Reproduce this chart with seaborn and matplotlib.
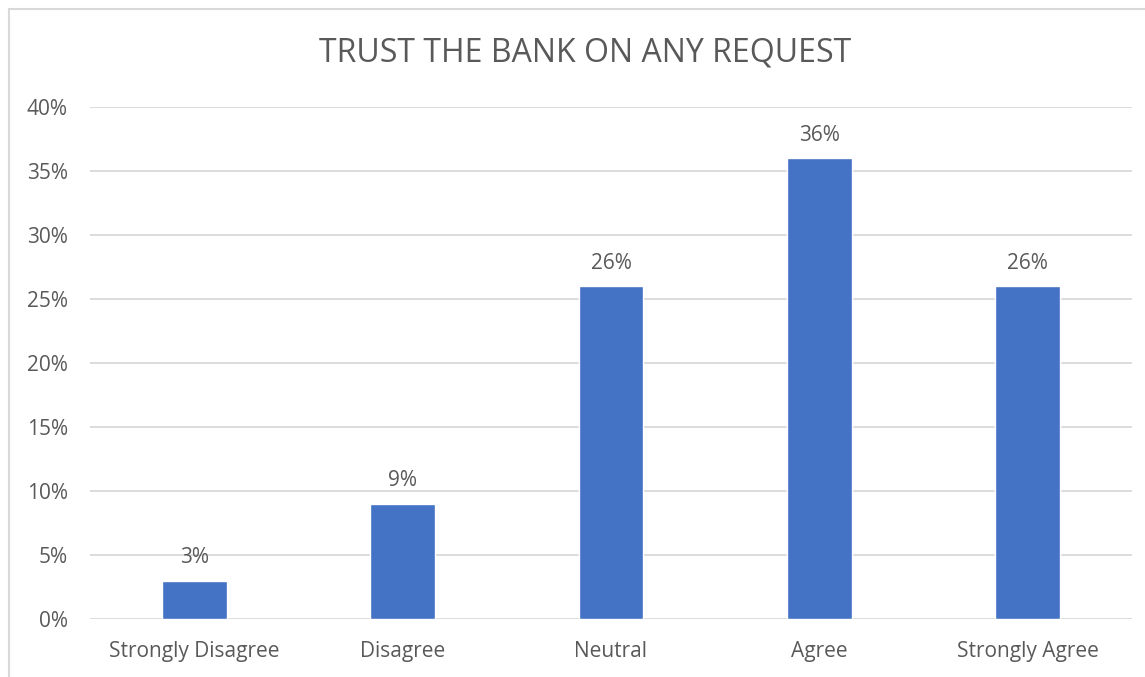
import matplotlib
matplotlib.use("Agg")
import matplotlib.pyplot as plt
from matplotlib.patches import Rectangle
from matplotlib.ticker import FuncFormatter, MultipleLocator
import seaborn as sns
import pandas as pd

categories = ["Strongly Disagree", "Disagree", "Neutral", "Agree", "Strongly Agree"]
shares = [0.03, 0.09, 0.26, 0.36, 0.26]
title = "TRUST THE BANK ON ANY REQUEST"

df = pd.DataFrame({"response": categories, "share": shares})

sns.set_theme(style="white")
plt.rcParams["font.family"] = ["Open Sans", "DejaVu Sans"]

text_color = "#595959"
grid_color = "#D9D9D9"
bar_color = "#4472C4"

fig = plt.figure(figsize=(11.45, 6.77), dpi=100)
ax = fig.add_axes([90 / 1145, 1 - 619 / 677, (1132 - 90) / 1145, (619 - 107) / 677])

sns.barplot(data=df, x="response", y="share", color=bar_color, width=0.31,
            saturation=1, ax=ax, order=categories)

ax.set_ylim(0, 0.40)
ax.set_xlim(-0.5, len(categories) - 0.5)
ax.yaxis.set_major_locator(MultipleLocator(0.05))
ax.yaxis.set_major_formatter(FuncFormatter(lambda v, _: f"{v * 100:.0f}%"))
ax.grid(axis="y", color=grid_color, linewidth=1.3)
ax.set_axisbelow(True)
for s in ax.spines.values():
    s.set_visible(False)
ax.set_xlabel("")
ax.set_ylabel("")
ax.tick_params(axis="both", length=0, labelsize=15, labelcolor=text_color)
ax.tick_params(axis="y", pad=16)
ax.tick_params(axis="x", pad=16)

for c in ax.containers:
    ax.bar_label(c, labels=[f"{v * 100:.0f}%" for v in c.datavalues],
                 padding=9, fontsize=15, color=text_color)

fig.text(585 / 1145, 1 - 53 / 677, title, ha="center", va="center",
         fontsize=23, color=text_color)

fig.patches.append(Rectangle((8.5 / 1145, -0.1), 1.2, 1.1 - 8.5 / 677,
                             transform=fig.transFigure, fill=False,
                             edgecolor="#D9D9D9", linewidth=1.5))

fig.savefig("out.png", dpi=100)
